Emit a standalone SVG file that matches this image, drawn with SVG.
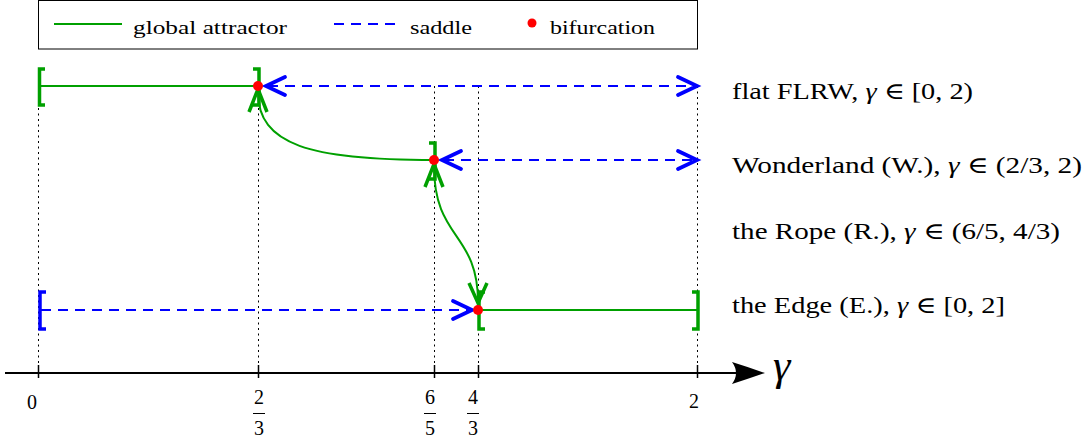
<svg xmlns="http://www.w3.org/2000/svg" width="1087" height="439" viewBox="0 0 1087 439">
<style>
  .txt { font-family: "Liberation Serif", "DejaVu Serif", serif; fill: #000; }
  .lbl { font-size: 23px; }
  .leg { font-size: 18px; }
  .tick { font-size: 20px; text-anchor: middle; }
  .att { stroke: #00a000; stroke-width: 2; fill: none; }
  .brk { stroke: #00a000; stroke-width: 3.5; fill: none; stroke-linecap: butt; }
  .brkb { stroke: #0000ff; stroke-width: 3.5; fill: none; }
  .sad { stroke: #0000ff; stroke-width: 2; fill: none; stroke-dasharray: 10 7; }
  .chev { stroke: #0000ff; stroke-width: 3.8; fill: none; stroke-linecap: round; stroke-linejoin: miter; }
  .gchev { stroke: #00a000; stroke-width: 3.5; fill: none; stroke-linecap: butt; stroke-linejoin: miter; }
  .dot { fill: #ff0000; }
  .grid { stroke: #000; stroke-width: 1; stroke-dasharray: 2 3.5; }
  .axis { stroke: #000; stroke-width: 2; }
  .tk { stroke: #000; stroke-width: 1.5; }
  .it { font-style: italic; }
</style>
<defs>
  <path id="chevR" d="M-19,-9 L0,0 L-19,9"/>
  <path id="chevL" d="M19,-9 L0,0 L19,9"/>
  <path id="gUp" d="M-9,23 L0,0 L9,23"/>
  <path id="gDown" d="M-9,-20 L0,0 L9,-20"/>
</defs>

<g id="legend">
  <rect x="38.5" y="0.5" width="659" height="48.5" fill="#fff" stroke="#000" stroke-width="1"/>
  <line class="att" x1="54" y1="24" x2="122" y2="24"/>
  <text class="txt leg" x="133" y="34" textLength="154" lengthAdjust="spacingAndGlyphs">global attractor</text>
  <line class="sad" x1="334" y1="24" x2="396" y2="24"/>
  <text class="txt leg" x="410" y="34" textLength="62" lengthAdjust="spacingAndGlyphs">saddle</text>
  <circle class="dot" cx="532" cy="23" r="4.5"/>
  <text class="txt leg" x="550" y="34" textLength="105" lengthAdjust="spacingAndGlyphs">bifurcation</text>
</g>

<g id="axis">
  <line class="grid" x1="38.5" y1="86" x2="38.5" y2="373"/>
  <line class="grid" x1="258.5" y1="86" x2="258.5" y2="373"/>
  <line class="grid" x1="434.5" y1="86" x2="434.5" y2="373"/>
  <line class="grid" x1="478.5" y1="86" x2="478.5" y2="373"/>
  <line class="grid" x1="697.5" y1="86" x2="697.5" y2="373"/>
  <line class="axis" x1="5" y1="373" x2="740" y2="373"/>
  <path d="M765,373 Q748,367 732,362 Q740,373 732,384 Q748,379 765,373 Z" fill="#000"/>
  <line class="tk" x1="38.5" y1="365" x2="38.5" y2="378"/>
  <line class="tk" x1="258.5" y1="365" x2="258.5" y2="378"/>
  <line class="tk" x1="434.5" y1="365" x2="434.5" y2="378"/>
  <line class="tk" x1="478.5" y1="365" x2="478.5" y2="378"/>
  <line class="tk" x1="697.5" y1="365" x2="697.5" y2="378"/>
  <text class="txt it" x="773" y="380" font-size="44">γ</text>
  <text class="txt tick" x="32" y="409">0</text>
  <text class="txt tick" x="259" y="404">2</text>
  <line x1="253" y1="413.5" x2="265" y2="413.5" stroke="#000" stroke-width="1"/>
  <text class="txt tick" x="259" y="435">3</text>
  <text class="txt tick" x="430" y="404">6</text>
  <line x1="424" y1="413.5" x2="436" y2="413.5" stroke="#000" stroke-width="1"/>
  <text class="txt tick" x="430" y="435">5</text>
  <text class="txt tick" x="473" y="404">4</text>
  <line x1="467" y1="413.5" x2="479" y2="413.5" stroke="#000" stroke-width="1"/>
  <text class="txt tick" x="473" y="435">3</text>
  <text class="txt tick" x="694" y="408">2</text>
</g>

<g id="node-flat">
  <line class="att" x1="38" y1="86" x2="258" y2="86"/>
  <path class="brk" d="M45,69 H39.5 V105 H45"/>
  <path class="brk" d="M253,69 H259 V105 H253"/>
  <text class="txt lbl" x="732" y="99" textLength="241" lengthAdjust="spacingAndGlyphs">flat FLRW, <tspan class="it">γ</tspan> ∈ [0, 2)</text>
</g>

<g id="node-wonderland">
  <path class="brk" d="M429,143 H435 V179 H429"/>
  <text class="txt lbl" x="732" y="173" textLength="350" lengthAdjust="spacingAndGlyphs">Wonderland (W.), <tspan class="it">γ</tspan> ∈ (2/3, 2)</text>
</g>

<g id="node-rope">
  <text class="txt lbl" x="732" y="239" textLength="328" lengthAdjust="spacingAndGlyphs">the Rope (R.), <tspan class="it">γ</tspan> ∈ (6/5, 4/3)</text>
</g>

<g id="node-edge">
  <line class="att" x1="478" y1="310" x2="697" y2="310"/>
  <path class="brkb" d="M46,292 H40 V329 H46"/>
  <path class="brk" d="M485,292 H479 V329 H485"/>
  <path class="brk" d="M692,292 H698 V329 H692"/>
  <text class="txt lbl" x="732" y="313" textLength="273" lengthAdjust="spacingAndGlyphs">the Edge (E.), <tspan class="it">γ</tspan> ∈ [0, 2]</text>
</g>

<g id="connectors">
  <path class="att" d="M258,92 C258,145 310,160 434,160"/>
  <path class="att" d="M434,166 C434,240 478,232 478,302"/>
  <line class="sad" x1="268" y1="86" x2="695" y2="86"/>
  <line class="sad" x1="444" y1="160" x2="695" y2="160"/>
  <line class="sad" x1="41" y1="310" x2="470" y2="310"/>
  <use href="#chevL" class="chev" x="266" y="86"/>
  <use href="#chevR" class="chev" x="697" y="86"/>
  <use href="#chevL" class="chev" x="442" y="160"/>
  <use href="#chevR" class="chev" x="697" y="160"/>
  <use href="#chevR" class="chev" x="472" y="310"/>
  <use href="#gUp" class="gchev" x="258" y="89"/>
  <use href="#gUp" class="gchev" x="434" y="164"/>
  <use href="#gDown" class="gchev" x="478" y="303"/>
</g>

<g id="bifurcations">
  <circle class="dot" cx="258" cy="86" r="5"/>
  <circle class="dot" cx="434" cy="160" r="5"/>
  <circle class="dot" cx="478" cy="310" r="5"/>
</g>
</svg>
